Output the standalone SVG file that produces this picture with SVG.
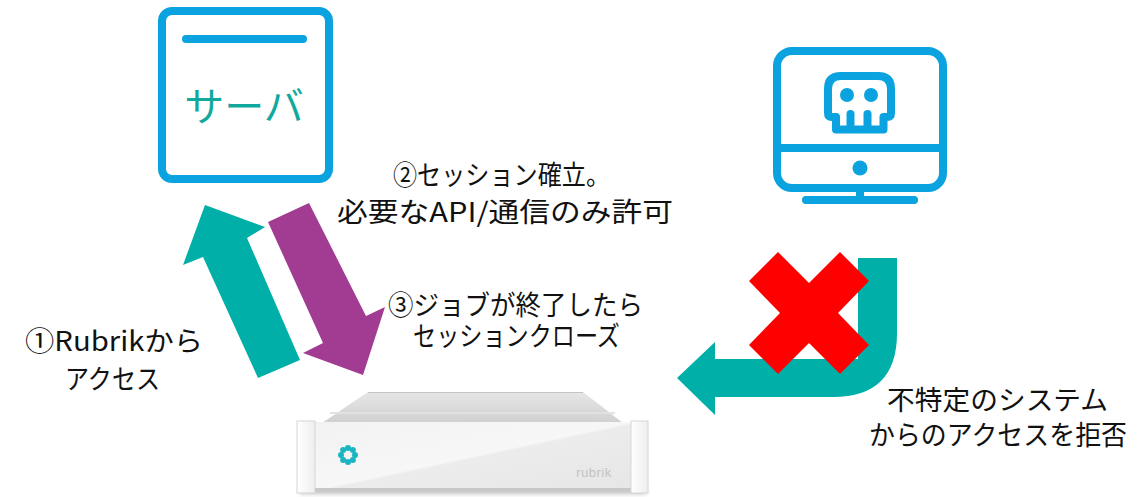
<svg xmlns="http://www.w3.org/2000/svg" width="1140" height="497" viewBox="0 0 1140 497">
  <defs>
    <style>
      .icon { fill: none; stroke: #0aa3df; stroke-width: 8; stroke-linecap: round; stroke-linejoin: round; }
      .label { font-family: "Noto Sans CJK JP", "Noto Sans", sans-serif; font-size: 27px; fill: #111111; text-anchor: start; }
      .teal { fill: #00afa8; }
      .purple { fill: #a23b92; }
    </style>
    <linearGradient id="trayGrad" x1="0" y1="0" x2="0" y2="1">
      <stop offset="0" stop-color="#e6e6e6"/>
      <stop offset="1" stop-color="#d0d0d0"/>
    </linearGradient>
    <linearGradient id="panelGrad" x1="0" y1="0" x2="1" y2="1">
      <stop offset="0" stop-color="#f2f2f2"/>
      <stop offset="0.5" stop-color="#f7f7f7"/>
      <stop offset="0.52" stop-color="#ececec"/>
      <stop offset="1" stop-color="#e6e6e6"/>
    </linearGradient>
    <linearGradient id="earGrad" x1="0" y1="0" x2="1" y2="0">
      <stop offset="0" stop-color="#ffffff"/>
      <stop offset="1" stop-color="#eeeeee"/>
    </linearGradient>
    <filter id="soft" x="-10%" y="-50%" width="120%" height="200%">
      <feGaussianBlur stdDeviation="2"/>
    </filter>
  </defs>

  <rect width="1140" height="497" fill="#ffffff"/>

  <!-- Server -->
  <g id="server">
    <rect class="icon" x="162" y="11" width="167" height="168" rx="10"/>
    <line class="icon" x1="186" y1="39" x2="303" y2="39"/>
    <text x="244" y="121" font-family="'Noto Sans CJK JP', 'Noto Sans', sans-serif" font-size="40" fill="#13a89e" text-anchor="middle">サーバ</text>
  </g>

  <!-- Unknown system (monitor with skull) -->
  <g id="unknown-system">
    <rect class="icon" x="777" y="51" width="166" height="137" rx="15" stroke-width="7.5"/>
    <line class="icon" x1="777" y1="148" x2="943" y2="148" stroke-width="7.5"/>
    <circle cx="860" cy="168" r="7.5" fill="#0aa3df"/>
    <line class="icon" x1="860" y1="188" x2="860" y2="199" stroke-width="7"/>
    <line class="icon" x1="806" y1="200" x2="914" y2="200" stroke-width="7"/>
    <path class="icon" stroke-width="7" d="M836,129.5 V117 H832 Q828,117 828,113 V89 Q828,76 841,76 H878 Q891,76 891,89 V113 Q891,117 887,117 H883.5 V129.5 Z"/>
    <line class="icon" x1="850.5" y1="114" x2="850.5" y2="129" stroke-width="6"/>
    <line class="icon" x1="867.5" y1="114" x2="867.5" y2="129" stroke-width="6"/>
    <circle cx="847" cy="95" r="7" fill="#0aa3df"/>
    <circle cx="871" cy="95" r="7" fill="#0aa3df"/>
  </g>

  <!-- Rubrik appliance -->
  <g id="rubrik-appliance">
    <rect x="300" y="486" width="346" height="8" fill="#9a9a9a" filter="url(#soft)" opacity="0.6"/>
    <polygon points="322,423 368,392 583,392 623,423" fill="url(#trayGrad)"/>
    <line x1="368" y1="392.5" x2="583" y2="392.5" stroke="#c4c4c4" stroke-width="1"/>
    <line x1="330" y1="413" x2="615" y2="413" stroke="#e2e2e2" stroke-width="2"/>
    <rect x="314" y="422" width="318" height="68" fill="url(#panelGrad)"/>
    <rect x="314" y="488" width="318" height="3" fill="#c8c8c8"/>
    <rect x="297" y="421" width="18" height="72" fill="url(#earGrad)" stroke="#d6d6d6" stroke-width="1"/>
    <rect x="631" y="421" width="17" height="72" fill="url(#earGrad)" stroke="#d6d6d6" stroke-width="1"/>
    <!-- ring logo -->
    <g fill="#1bb5c2">
      <circle cx="348" cy="448" r="3"/>
      <circle cx="352.9" cy="450.1" r="3"/>
      <circle cx="355" cy="455" r="3"/>
      <circle cx="352.9" cy="459.9" r="3"/>
      <circle cx="348" cy="462" r="3"/>
      <circle cx="343.1" cy="459.9" r="3"/>
      <circle cx="341" cy="455" r="3"/>
      <circle cx="343.1" cy="450.1" r="3"/>
    </g>
    <text x="594" y="477" font-family="'Liberation Sans', sans-serif" font-size="13" fill="#c2c2c2" text-anchor="middle" letter-spacing="0.5">rubrik</text>
  </g>

  <!-- Connectors -->
  <g id="connectors">
    <!-- 1: appliance to server -->
    <polygon class="teal" points="205,205 265,227 247,238 300,360 258,378 203,257 183,265"/>
    <!-- 2: server session to appliance -->
    <polygon class="purple" points="268,222 309,203 366,316 385,307 363,375 303,353 323,343"/>
    <!-- blocked access from unknown system -->
    <path class="teal" d="M858,258 H897 V333 Q897,397 833,397 H715 V415 L677,378 L715,342 V359 H858 Z"/>
    <polygon fill="#ff0000" points="778,252 809,283 840,252 869,281 838,313 869,345 840,374 809,343 778,374 749,345 780,313 749,281"/>
  </g>

  <!-- Labels -->
  <g id="labels">
    <text class="label" x="393" y="185" textLength="217" lengthAdjust="spacingAndGlyphs">②セッション確立。</text>
    <text class="label" x="337" y="222" textLength="336" lengthAdjust="spacingAndGlyphs">必要なAPI/通信のみ許可</text>
    <text class="label" x="388" y="315" textLength="255" lengthAdjust="spacingAndGlyphs">③ジョブが終了したら</text>
    <text class="label" x="413" y="346" textLength="207" lengthAdjust="spacingAndGlyphs">セッションクローズ</text>
    <text class="label" x="25" y="351" textLength="178" lengthAdjust="spacingAndGlyphs">①Rubrikから</text>
    <text class="label" x="65" y="389" textLength="95" lengthAdjust="spacingAndGlyphs">アクセス</text>
    <text class="label" x="887" y="410" textLength="221" lengthAdjust="spacingAndGlyphs">不特定のシステム</text>
    <text class="label" x="869" y="445" textLength="258" lengthAdjust="spacingAndGlyphs">からのアクセスを拒否</text>
  </g>
</svg>
